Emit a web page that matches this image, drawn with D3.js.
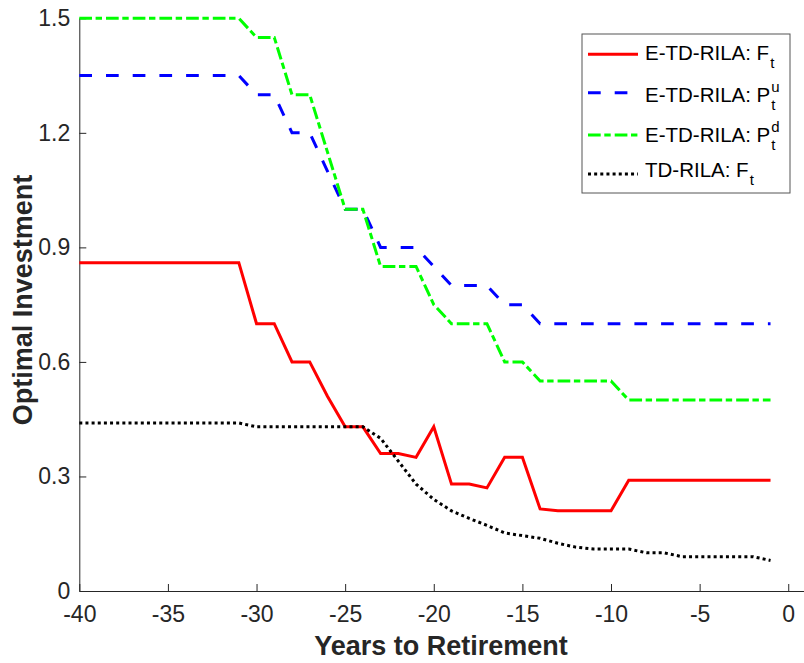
<!DOCTYPE html>
<html>
<head>
<meta charset="utf-8">
<script src="https://cdn.jsdelivr.net/npm/d3@7"></script>
<style>
  body { margin: 0; background: #fff; }
  text { font-family: "Liberation Sans", Arial, Helvetica, sans-serif; }
</style>
</head>
<body>
<div id="chart"></div>
<script>
// years to retirement (x values)
var years = [-40, -39, -38, -37, -36, -35, -34, -33, -32, -31,
             -30, -29, -28, -27, -26, -25, -24, -23, -22, -21,
             -20, -19, -18, -17, -16, -15, -14, -13, -12, -11,
             -10, -9, -8, -7, -6, -5, -4, -3, -2, -1];

// E-TD-RILA: F_t
var etdF = [0.86, 0.86, 0.86, 0.86, 0.86, 0.86, 0.86, 0.86, 0.86, 0.86,
            0.70, 0.70, 0.60, 0.60, 0.51, 0.43, 0.43, 0.36, 0.36, 0.35,
            0.43, 0.28, 0.28, 0.27, 0.35, 0.35, 0.215, 0.21, 0.21, 0.21,
            0.21, 0.29, 0.29, 0.29, 0.29, 0.29, 0.29, 0.29, 0.29, 0.29];

// E-TD-RILA: P_t^u
var etdPu = [1.35, 1.35, 1.35, 1.35, 1.35, 1.35, 1.35, 1.35, 1.35, 1.35,
             1.30, 1.30, 1.20, 1.20, 1.10, 1.00, 1.00, 0.90, 0.90, 0.90,
             0.85, 0.80, 0.80, 0.80, 0.75, 0.75, 0.70, 0.70, 0.70, 0.70,
             0.70, 0.70, 0.70, 0.70, 0.70, 0.70, 0.70, 0.70, 0.70, 0.70];

// E-TD-RILA: P_t^d
var etdPd = [1.50, 1.50, 1.50, 1.50, 1.50, 1.50, 1.50, 1.50, 1.50, 1.50,
             1.45, 1.45, 1.30, 1.30, 1.15, 1.00, 1.00, 0.85, 0.85, 0.85,
             0.75, 0.70, 0.70, 0.70, 0.60, 0.60, 0.55, 0.55, 0.55, 0.55,
             0.55, 0.50, 0.50, 0.50, 0.50, 0.50, 0.50, 0.50, 0.50, 0.50];

// TD-RILA: F_t
var tdF = [0.44, 0.44, 0.44, 0.44, 0.44, 0.44, 0.44, 0.44, 0.44, 0.44,
           0.43, 0.43, 0.43, 0.43, 0.43, 0.43, 0.43, 0.40, 0.34, 0.28,
           0.24, 0.21, 0.19, 0.172, 0.152, 0.145, 0.138, 0.125, 0.115, 0.11,
           0.11, 0.11, 0.10, 0.10, 0.09, 0.09, 0.09, 0.09, 0.09, 0.08];

var xTicks = [-40, -35, -30, -25, -20, -15, -10, -5, 0];
var yTicks = [0, 0.3, 0.6, 0.9, 1.2, 1.5];
var yTickLabels = ["0", "0.3", "0.6", "0.9", "1.2", "1.5"];

var width = 804,
    height = 663,
    axisColor = "#262626";

var svg = d3.select("#chart").append("svg")
    .attr("width", width)
    .attr("height", height);

var x = d3.scaleLinear().domain([-40, 0.9]).range([79.3, 804.2]);
var y = d3.scaleLinear().domain([0, 1.5]).range([591, 18.3]);

// axes, ticks pointing inward like matlab, plain hyphen for minus
var xAxis = svg.append("g")
    .attr("transform", "translate(0," + y(0) + ")")
    .call(d3.axisBottom(x).tickValues(xTicks)
        .tickFormat(function(d) { return String(d); })
        .tickSizeInner(-7).tickSizeOuter(0).tickPadding(15));

var yAxis = svg.append("g")
    .attr("transform", "translate(" + x(-40) + ",0)")
    .call(d3.axisLeft(y).tickValues(yTicks)
        .tickFormat(function(d, i) { return yTickLabels[i]; })
        .tickSizeInner(-7).tickSizeOuter(0).tickPadding(9));

[xAxis, yAxis].forEach(function(g) {
    g.select(".domain").attr("stroke", axisColor);
    g.selectAll(".tick line").attr("stroke", axisColor);
    g.selectAll(".tick text")
        .attr("fill", axisColor)
        .style("font-size", "23px")
        .style("font-family", "'Liberation Sans', Arial, sans-serif");
});

// axis titles
svg.append("text")
    .attr("x", 441)
    .attr("y", 655)
    .attr("text-anchor", "middle")
    .attr("fill", axisColor)
    .style("font-size", "27px")
    .style("font-weight", "bold")
    .text("Years to Retirement");

svg.append("text")
    .attr("transform", "translate(32,300) rotate(-90)")
    .attr("text-anchor", "middle")
    .attr("fill", axisColor)
    .style("font-size", "27px")
    .style("font-weight", "bold")
    .text("Optimal Investment");

// series
var series = [
    { values: etdF, color: "#ff0000", dash: null,               label: "E-TD-RILA: F", sup: null, lineY: 54.3, base: 60 },
    { values: etdPu, color: "#0000ff", dash: "12.7,14",          label: "E-TD-RILA: P", sup: "u",  lineY: 92.7, base: 101.5 },
    { values: etdPd, color: "#00ff00", dash: "12.7,3.6,6.4,4",   label: "E-TD-RILA: P", sup: "d",  lineY: 135, base: 141.5 },
    { values: tdF,  color: "#000000", dash: "3,3.15",            label: "TD-RILA: F",   sup: null, lineY: 174, base: 177 }
];

var line = d3.line()
    .x(function(d, i) { return x(years[i]); })
    .y(function(d) { return y(d); });

svg.selectAll(".series")
    .data(series)
    .enter()
    .append("path")
    .attr("class", "series")
    .attr("d", function(s) { return line(s.values); })
    .attr("fill", "none")
    .attr("stroke", function(s) { return s.color; })
    .attr("stroke-width", 3)
    .attr("stroke-dasharray", function(s) { return s.dash; });

// legend
var legend = svg.append("g");

legend.append("rect")
    .attr("x", 582)
    .attr("y", 34)
    .attr("width", 208)
    .attr("height", 159)
    .attr("fill", "#fff")
    .attr("stroke", "#555")
    .attr("stroke-width", 1);

series.forEach(function(s) {
    legend.append("line")
        .attr("x1", 588).attr("x2", 638)
        .attr("y1", s.lineY).attr("y2", s.lineY)
        .attr("stroke", s.color)
        .attr("stroke-width", 3)
        .attr("stroke-dasharray", s.dash);

    var t = legend.append("text")
        .attr("x", 645)
        .attr("y", s.base)
        .attr("fill", "#000")
        .style("font-size", "20.5px")
        .text(s.label);
    var endX = 645 + t.node().getComputedTextLength() + 1;

    if (s.sup) {
        legend.append("text")
            .attr("x", endX)
            .attr("y", s.base - 9.5)
            .style("font-size", "15px")
            .text(s.sup);
        legend.append("text")
            .attr("x", endX)
            .attr("y", s.base + 8.5)
            .style("font-size", "15px")
            .text("t");
    } else {
        legend.append("text")
            .attr("x", endX)
            .attr("y", s.base + 8)
            .style("font-size", "15px")
            .text("t");
    }
});
</script>
</body>
</html>
